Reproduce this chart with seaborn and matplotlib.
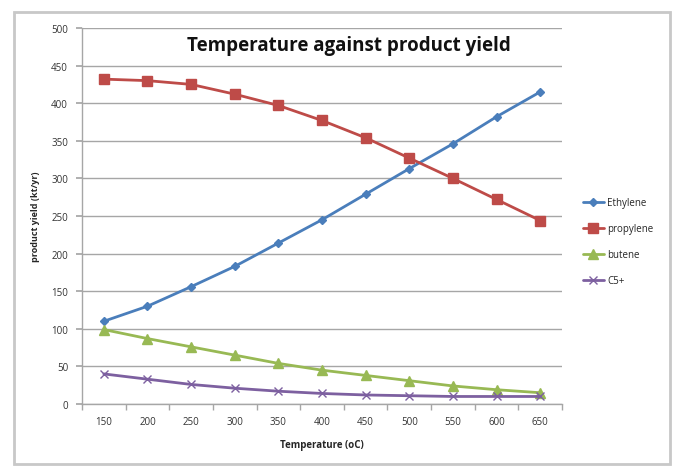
import numpy as np
import pandas as pd
import matplotlib
matplotlib.use("Agg")
import matplotlib.pyplot as plt
import seaborn as sns
from matplotlib.patches import Rectangle

temperatures = ["150", "200", "250", "300", "350", "400", "450", "500", "550", "600", "650"]
ethylene = [110, 130, 156, 183, 214, 245, 279, 313, 346, 382, 415]
propylene = [432, 430, 425, 412, 397, 377, 354, 327, 300, 272, 244]
butene = [99, 87, 76, 65, 54, 45, 38, 31, 24, 19, 15]
c5plus = [40, 33, 26, 21, 17, 14, 12, 11, 10, 10, 10]
series_names = ["Ethylene", "propylene", "butene", "C5+"]
y_ticks = [0, 50, 100, 150, 200, 250, 300, 350, 400, 450, 500]

df = pd.concat([
    pd.DataFrame({"Temperature": temperatures, "yield": vals, "series": name})
    for name, vals in zip(series_names, [ethylene, propylene, butene, c5plus])
])

sns.set_theme(style="white")
plt.rcParams['font.family'] = ['Open Sans', 'DejaVu Sans']

fig = plt.figure(figsize=(6.8, 4.77), dpi=100)
fig.patch.set_facecolor("white")
# chart area frame
fig.patches.append(Rectangle((14/680, 12/477), 656/680, 452/477, transform=fig.transFigure,
                             fill=False, edgecolor="#c8c8c8", linewidth=2.0))

ax = fig.add_axes([82/680, 72/477, 480/680, 376/477])

palette = {"Ethylene": "#4A7EBB", "propylene": "#BE4B48", "butene": "#98B954", "C5+": "#7D60A0"}
markers = {"Ethylene": "D", "propylene": "s", "butene": "^", "C5+": "x"}
msizes = {"Ethylene": 4.5, "propylene": 6.5, "butene": 6.5, "C5+": 6}

for name in series_names:
    sub = df[df["series"] == name]
    sns.lineplot(data=sub, x="Temperature", y="yield", color=palette[name], marker=markers[name],
                 markersize=msizes[name], linewidth=2.0, markeredgecolor=palette[name],
                 markeredgewidth=1.0, ax=ax, label=name, sort=False)

ax.set_xlim(-0.5, len(temperatures) - 0.5)
ax.set_ylim(0, 500)
ax.set_yticks(y_ticks)
ax.yaxis.grid(True, color="#a6a6a6", linewidth=1.0)
ax.set_axisbelow(True)
for s in ["top", "right"]:
    ax.spines[s].set_visible(False)
for s in ["left", "bottom"]:
    ax.spines[s].set_color("#a6a6a6")
    ax.spines[s].set_linewidth(1.0)

ax.set_xticks(range(len(temperatures)))
ax.set_xticklabels(temperatures)
ax.set_xticks(np.arange(-0.5, len(temperatures), 1.0), minor=True)
ax.tick_params(axis="x", which="major", length=0, labelsize=7, labelcolor="#333333", pad=9)
ax.tick_params(axis="x", which="minor", length=4, color="#a6a6a6", direction="out", bottom=True)
ax.tick_params(axis="y", which="major", length=4, color="#a6a6a6", direction="out", left=True,
               labelsize=7, labelcolor="#333333", pad=6)

ax.set_xlabel("Temperature (oC)", fontsize=7, fontweight="bold", labelpad=8)
ax.set_ylabel("product yield (kt/yr)", fontsize=6.5, fontweight="bold", labelpad=8)

ax.text(0.555, 0.955, "Temperature against product yield", transform=ax.transAxes,
        ha="center", va="center", fontsize=13.5, fontweight="bold", color="#111111")

leg = ax.legend(loc="center left", bbox_to_anchor=(1.025, 0.432), frameon=False,
                fontsize=7, handlelength=2.2, labelspacing=1.55, handletextpad=0.3)

fig.savefig("out.png", dpi=100, facecolor="white")
